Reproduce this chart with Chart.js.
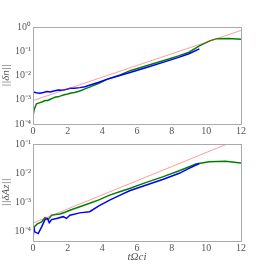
<!DOCTYPE html>
<html>
<head>
<meta charset="utf-8">
<script src="https://cdn.jsdelivr.net/npm/chart.js@4"></script>
<style>
  body { margin: 0; background: #fff; }
  canvas { position: absolute; left: 0; }
</style>
</head>
<body>
<canvas id="topChart" width="269" height="135" style="top:0"></canvas>
<canvas id="bottomChart" width="269" height="135" style="top:134px"></canvas>
<script>
// x ticks shared by both panels
const xTicks = [0, 2, 4, 6, 8, 10, 12];
const xTickLabels = ['0', '2', '4', '6', '8', '10', '12'];

// top panel: ||δn||
const topTicks = [1e-4, 1e-3, 1e-2, 1e-1, 1];
const topTickLabels = ['10⁻⁴', '10⁻³', '10⁻²', '10⁻¹', '10⁰'];
const topBlueT = [0, 0.2, 0.4, 0.6, 0.8, 1.0, 1.2, 1.45, 1.7, 1.95, 2.15, 2.4, 2.7, 3.0, 3.3, 3.8, 4.3, 4.8, 5.6, 6.5, 7.5, 8.4, 9.0, 9.6];
const topBlueV = [2.1e-3, 1.95e-3, 1.86e-3, 2.0e-3, 2.19e-3, 2.09e-3, 2.29e-3, 2.5e-3, 2.45e-3, 2.7e-3, 2.95e-3, 2.95e-3, 3.16e-3, 3.47e-3, 4.07e-3, 5.25e-3, 7.08e-3, 9.1e-3, 1.33e-2, 2.09e-2, 3.47e-2, 5.6e-2, 7.9e-2, 0.126];
const topGreenT = [0, 0.07, 0.2, 0.4, 0.55, 0.7, 0.85, 1.0, 1.15, 1.3, 1.45, 1.6, 1.8, 2.0, 2.2, 2.4, 2.7, 3.0, 3.3, 3.8, 4.3, 5.0, 5.6, 6.5, 7.5, 8.4, 9.0, 9.6, 10.2, 10.6, 11.3, 12];
const topGreenV = [2.1e-4, 4.0e-4, 6.8e-4, 7.6e-4, 8.3e-4, 9.3e-4, 9.3e-4, 1.05e-3, 1.17e-3, 1.29e-3, 1.32e-3, 1.45e-3, 1.62e-3, 1.74e-3, 1.9e-3, 2.0e-3, 2.29e-3, 2.82e-3, 3.39e-3, 4.79e-3, 7.08e-3, 1.02e-2, 1.58e-2, 2.45e-2, 4.07e-2, 6.46e-2, 9.1e-2, 0.166, 0.269, 0.331, 0.339, 0.309];
const topRedT = [0, 12];
const topRedV = [9.3e-4, 0.72];

// bottom panel: ||δAz||
const botTicks = [1e-4, 1e-3, 1e-2, 1e-1];
const botTickLabels = ['10⁻⁴', '10⁻³', '10⁻²', '10⁻¹'];
const botBlueT = [0.04, 0.1, 0.3, 0.5, 0.69, 0.84, 0.94, 1.07, 1.36, 1.74, 1.93, 2.13, 2.7, 3.27, 3.8, 4.42, 5.0, 5.57, 6.5, 7.48, 8.44, 9.0, 9.59];
const botBlueV = [1.41e-4, 9.5e-5, 8.3e-5, 1.41e-4, 2.51e-4, 2.75e-4, 1.95e-4, 2.51e-4, 2.75e-4, 3.16e-4, 2.75e-4, 3.55e-4, 4.27e-4, 4.68e-4, 7.4e-4, 1.17e-3, 1.7e-3, 2.45e-3, 3.8e-3, 6.0e-3, 9.8e-3, 1.45e-2, 2.14e-2];
const botGreenT = [0, 0.07, 0.25, 0.5, 0.69, 0.88, 1.07, 1.3, 1.55, 1.85, 2.13, 2.7, 3.27, 3.8, 4.42, 5.0, 5.57, 6.5, 7.48, 8.44, 9.4, 10.16, 11.1, 12];
const botGreenV = [5.6e-5, 1.41e-4, 1.78e-4, 2.09e-4, 2.95e-4, 2.51e-4, 3.55e-4, 3.72e-4, 3.89e-4, 4.47e-4, 5.25e-4, 6.9e-4, 9.1e-4, 1.2e-3, 1.74e-3, 2.29e-3, 2.95e-3, 4.68e-3, 7.4e-3, 1.2e-2, 2.04e-2, 2.45e-2, 2.57e-2, 2.24e-2];
const botRedT = [0, 11.2];
const botRedV = [1.9e-4, 0.1];

const tickFont = { family: 'Liberation Serif', size: 10 };
const titleFont = { family: 'Liberation Serif', size: 11, style: 'italic' };
const textColor = '#555';

function pts(ts, vs) {
    return ts.map(function(t, i) { return { x: t, y: vs[i] }; });
}

const framePlugin = {
    id: 'frame',
    afterDraw: function(chart) {
        const a = chart.chartArea;
        const ctx = chart.ctx;
        ctx.save();
        ctx.strokeStyle = '#aaa';
        ctx.lineWidth = 1;
        ctx.strokeRect(Math.round(a.left) + 0.5, Math.round(a.top) + 0.5, Math.round(a.right - a.left), Math.round(a.bottom - a.top));
        ctx.restore();
    }
};

function makeChart(id, opts) {
    const ctx = document.getElementById(id).getContext('2d');
    return new Chart(ctx, {
        type: 'line',
        data: {
            datasets: [
                { data: pts(opts.redT, opts.redV), borderColor: 'rgba(255,60,60,0.5)', borderWidth: 1, pointRadius: 0 },
                { data: pts(opts.blueT, opts.blueV), borderColor: '#0000ff', borderWidth: 1.5, pointRadius: 0 },
                { data: pts(opts.greenT, opts.greenV), borderColor: '#008000', borderWidth: 1.5, pointRadius: 0 }
            ]
        },
        options: {
            responsive: false,
            animation: false,
            layout: { padding: { top: opts.padTop, right: 28, left: 0, bottom: 0 } },
            plugins: { legend: { display: false }, tooltip: { enabled: false } },
            scales: {
                x: {
                    type: 'linear',
                    min: 0,
                    max: 12,
                    grid: { display: false, drawTicks: false },
                    border: { display: false },
                    afterBuildTicks: function(axis) { axis.ticks = xTicks.map(function(v) { return { value: v }; }); },
                    afterFit: function(axis) { axis.height = opts.xHeight; },
                    ticks: {
                        autoSkip: false,
                        maxRotation: 0,
                        padding: 1,
                        color: textColor,
                        font: tickFont,
                        callback: function(v, i) { return xTickLabels[i]; }
                    },
                    title: opts.xTitle ? {
                        display: true,
                        text: opts.xTitle,
                        color: textColor,
                        font: titleFont,
                        padding: { top: 0, bottom: 5 }
                    } : { display: false }
                },
                y: {
                    type: 'logarithmic',
                    min: opts.yMin,
                    max: opts.yMax,
                    grid: { display: false, drawTicks: false },
                    border: { display: false },
                    afterBuildTicks: function(axis) { axis.ticks = opts.yTicks.map(function(v) { return { value: v }; }); },
                    afterFit: function(axis) { axis.width = 33; },
                    ticks: {
                        autoSkip: false,
                        padding: 2,
                        color: textColor,
                        font: tickFont,
                        callback: function(v, i) { return opts.yTickLabels[i]; }
                    },
                    title: {
                        display: true,
                        text: opts.yTitle,
                        color: textColor,
                        font: titleFont,
                        padding: { top: 0, bottom: 0 }
                    }
                }
            }
        },
        plugins: [framePlugin]
    });
}

makeChart('topChart', {
    redT: topRedT, redV: topRedV,
    blueT: topBlueT, blueV: topBlueV,
    greenT: topGreenT, greenV: topGreenV,
    yMin: 1e-4, yMax: 1,
    yTicks: topTicks, yTickLabels: topTickLabels,
    yTitle: '||δn||',
    padTop: 27, xHeight: 11, xTitle: null
});

makeChart('bottomChart', {
    redT: botRedT, redV: botRedV,
    blueT: botBlueT, blueV: botBlueV,
    greenT: botGreenT, greenV: botGreenV,
    yMin: 4.6e-5, yMax: 0.1,
    yTicks: botTicks, yTickLabels: botTickLabels,
    yTitle: '||δAz||',
    padTop: 10, xHeight: 28, xTitle: 'tΩci'
});
</script>
</body>
</html>
